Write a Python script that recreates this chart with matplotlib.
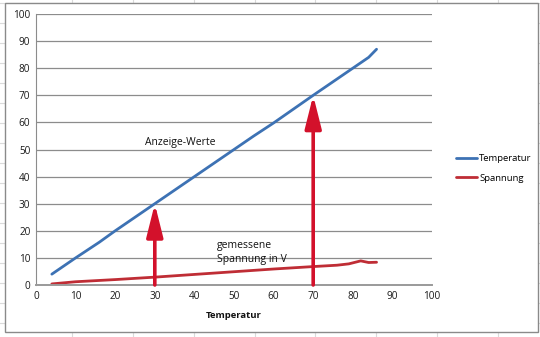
import matplotlib
matplotlib.use("Agg")
import matplotlib.pyplot as plt
from matplotlib.patches import Rectangle
from matplotlib.lines import Line2D

plt.rcParams['font.family'] = ['Open Sans', 'DejaVu Sans']

# Data
temp_x = [4, 10, 16, 20, 30, 40, 50, 55, 60, 70, 80, 84, 86]
temp_y = [4, 10, 15.8, 20, 30, 40, 50, 55, 59.8, 70, 80, 84, 87]
span_x = [4, 10, 20, 30, 40, 50, 60, 70, 76, 79, 82, 84, 86]
span_y = [0.4, 1.2, 2.0, 2.9, 3.9, 4.9, 5.9, 6.8, 7.3, 7.8, 8.9, 8.3, 8.4]
arrow_x = [30, 70]
arrow_top = [30, 70]
ticks = list(range(0, 101, 10))

W, H = 540, 337
fig = plt.figure(figsize=(W / 100, H / 100), dpi=100)
fig.patch.set_facecolor('white')

# spreadsheet background grid
for xp in [72, 133, 194, 255, 315, 376, 437, 498]:
    fig.add_artist(Line2D([xp / W, xp / W], [0, 1], color='#dadada', lw=0.8, zorder=0))
for yp in range(3, H, 20):
    fig.add_artist(Line2D([0, 1], [1 - yp / H, 1 - yp / H], color='#dadada', lw=0.8, zorder=0))

# chart area
fig.add_artist(Rectangle((5 / W, 1 - 332 / H), 533 / W, 329 / H, facecolor='white',
                         edgecolor='#8a8a8a', lw=1.0, zorder=1))

ax = fig.add_axes([36 / W, 1 - 285 / H, 396 / W, 271 / H], zorder=2)
ax.set_facecolor('none')
ax.set_xlim(0, 100)
ax.set_ylim(0, 100)
ax.set_xticks(ticks)
ax.set_yticks(ticks)
ax.tick_params(length=0, labelsize=7.2, colors='#1a1a1a', pad=4)
ax.grid(axis='y', color='#8c8c8c', lw=0.9)
ax.set_axisbelow(True)
for s in ['top', 'right']:
    ax.spines[s].set_visible(False)
ax.spines['left'].set_color('#8c8c8c')
ax.spines['bottom'].set_color('#9a9a9a')
ax.spines['bottom'].set_linewidth(1.4)

ax.plot(temp_x, temp_y, color='#3d72b4', lw=2.0, label='Temperatur', solid_capstyle='round')
ax.plot(span_x, span_y, color='#bf2d35', lw=2.0, label='Spannung', solid_capstyle='round')

for xa, ya in zip(arrow_x, arrow_top):
    ax.annotate('', xy=(xa, ya), xytext=(xa, 0),
                arrowprops=dict(arrowstyle='-|>,head_length=2.0,head_width=0.5',
                                color='#d3112b', lw=2.6, shrinkA=0, shrinkB=0))

ax.text(36.5, 52.5, 'Anzeige-Werte', fontsize=7.5, ha='center', va='center', color='#111111')
ax.text(45.8, 14.6, 'gemessene', fontsize=7.5, ha='left', va='center', color='#111111')
ax.text(45.8, 9.4, 'Spannung in V', fontsize=7.5, ha='left', va='center', color='#111111')

ax.set_xlabel('Temperatur', fontsize=6.8, fontweight='bold', labelpad=7, color='#111111')

ax.legend(loc='center left', bbox_to_anchor=(1.04, 0.43), frameon=False, fontsize=6.8,
          handlelength=2.2, handletextpad=0.2, labelspacing=1.1)

fig.savefig('out.png', dpi=100)
